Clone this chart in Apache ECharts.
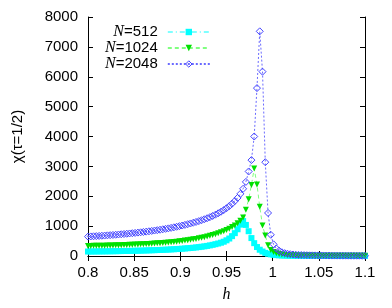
<!DOCTYPE html>
<html><head><meta charset="utf-8">
<script src="https://cdn.jsdelivr.net/npm/echarts@6/dist/echarts.min.js"></script>
<style>html,body{margin:0;padding:0;background:#fff}#c{width:392px;height:308px}</style>
</head><body><div id="c"></div>
<script>
const hValues = [0.800,0.803,0.806,0.809,0.812,0.815,0.818,0.821,0.824,0.827,
0.830,0.833,0.836,0.839,0.842,0.845,0.848,0.851,0.854,0.857,
0.860,0.863,0.866,0.869,0.872,0.875,0.878,0.881,0.884,0.887,
0.890,0.893,0.896,0.899,0.902,0.905,0.908,0.911,0.914,0.917,
0.920,0.923,0.926,0.929,0.932,0.935,0.938,0.941,0.944,0.947,
0.950,0.953,0.956,0.959,0.962,0.965,0.968,0.971,0.974,0.977,
0.980,0.983,0.986,0.989,0.992,0.995,0.998,1.001,1.004,1.007,
1.010,1.013,1.016,1.019,1.022,1.025,1.028,1.031,1.034,1.037,
1.040,1.043,1.046,1.049,1.052,1.055,1.058,1.061,1.064,1.067,
1.070,1.073,1.076,1.079,1.082,1.085,1.088,1.091,1.094,1.097,1.100];

const chiN512 = [150,151,152,153,154,155,156,157,158,160,
161,163,165,167,169,171,173,175,177,180,
183,186,189,192,195,199,203,207,211,216,
221,226,232,238,245,252,260,268,277,287,
298,310,323,338,355,374,395,418,445,478,
525,585,665,765,895,1050,1170,1040,830,600,
430,300,210,150,105,75,55,40,30,23,
18,15,12,10,9,8,7,6,6,5,
5,5,4,4,4,4,3,3,3,3,
3,3,3,2,2,2,2,2,2,2,2];

const chiN1024 = [335,337,339,341,343,345,347,349,352,355,
358,361,364,367,370,374,378,382,386,390,
395,400,405,411,417,423,430,437,445,453,
462,471,481,492,503,515,528,542,557,573,
590,608,628,650,674,700,728,758,791,828,
870,916,967,1025,1095,1180,1290,1550,1900,2380,
2930,2390,1650,1020,690,360,200,130,90,65,
50,40,33,28,24,21,19,17,16,15,
14,13,12,11,11,10,10,9,9,8,
8,8,7,7,7,6,6,6,6,5,5];

const chiN2048 = [650,655,660,666,672,678,684,691,698,705,
712,720,728,736,745,754,763,773,783,793,
804,815,827,839,852,865,879,894,909,925,
942,960,979,999,1020,1042,1065,1089,1114,1140,
1168,1198,1230,1264,1300,1340,1383,1430,1481,1537,
1600,1670,1750,1840,1945,2080,2250,2480,2830,3210,
4000,5620,7520,6170,3140,1440,710,390,250,175,
125,95,75,60,50,43,37,33,29,26,
23,21,20,19,18,17,16,15,14,14,
13,13,12,12,11,11,10,10,10,9,9];

const seriesNames = ['N=512','N=1024','N=2048'];
const xTicks = {min: 0.8, max: 1.1, interval: 0.05};
const yTicks = {min: 0, max: 8000, interval: 1000};

const pairs = vals => hValues.map((h, i) => [h, vals[i]]);
const sans = 'Liberation Sans';
const tickStyle = {inside: true, length: 5, lineStyle: {color: '#000', width: 1}};
const lineAx = {lineStyle: {color: '#000', width: 1}};
const blueStyle = {color: 'rgba(0,0,0,0)', borderColor: '#4444ff', borderWidth: 1};

const chart = echarts.init(document.getElementById('c'), null, {renderer: 'canvas'});
chart.setOption({
  animation: false,
  backgroundColor: '#fff',
  grid: {left: 88, right: 27, top: 17, bottom: 47},
  legend: {
    orient: 'vertical', align: 'right', left: 100, top: 19,
    itemWidth: 42, itemHeight: 8, itemGap: 0, selectedMode: false,
    data: [{name: seriesNames[0]}, {name: seriesNames[1]},
           {name: seriesNames[2], itemStyle: blueStyle}],
    formatter: name => '{i|N}{t|' + name.slice(1) + '}',
    textStyle: {
      rich: {
        i: {fontFamily: 'Liberation Serif', fontStyle: 'italic', fontSize: 16, color: '#000', lineHeight: 15},
        t: {fontFamily: sans, fontSize: 15, color: '#000', lineHeight: 15, padding: [0, 5, 0, 0]}
      }
    }
  },
  xAxis: [{
    type: 'value', min: xTicks.min, max: xTicks.max, interval: xTicks.interval,
    name: 'h', nameLocation: 'middle', nameGap: 31,
    nameTextStyle: {fontFamily: 'Liberation Serif', fontStyle: 'italic', fontSize: 16, color: '#000'},
    axisLine: lineAx, axisTick: tickStyle, splitLine: {show: false},
    axisLabel: {fontFamily: sans, fontSize: 15, color: '#000', margin: 9}
  }, {
    type: 'value', position: 'top', min: xTicks.min, max: xTicks.max, interval: xTicks.interval,
    axisLine: lineAx, axisTick: tickStyle, splitLine: {show: false}, axisLabel: {show: false}
  }],
  yAxis: [{
    type: 'value', min: yTicks.min, max: yTicks.max, interval: yTicks.interval,
    name: 'χ(τ=1/2)', nameLocation: 'middle', nameGap: 63,
    nameTextStyle: {fontFamily: sans, fontSize: 15, color: '#000'},
    axisLine: lineAx, axisTick: tickStyle, splitLine: {show: false},
    axisLabel: {fontFamily: sans, fontSize: 15, color: '#000', margin: 10, formatter: v => String(v)}
  }, {
    type: 'value', position: 'right', min: yTicks.min, max: yTicks.max, interval: yTicks.interval,
    axisLine: lineAx, axisTick: tickStyle, splitLine: {show: false}, axisLabel: {show: false}
  }],
  series: [{
    name: seriesNames[0], type: 'line', data: pairs(chiN512),
    showAllSymbol: true, symbol: 'rect', symbolSize: 6,
    itemStyle: {color: '#00ffff'},
    lineStyle: {color: '#7fffff', width: 1, type: [5, 3, 1, 3]}
  }, {
    name: seriesNames[1], type: 'line', data: pairs(chiN1024),
    showAllSymbol: true, symbol: 'triangle', symbolRotate: 180, symbolSize: 6,
    itemStyle: {color: '#00e000'},
    lineStyle: {color: '#80ff80', width: 1, type: [4, 3]}
  }, {
    name: seriesNames[2], type: 'line', data: pairs(chiN2048),
    showAllSymbol: true, symbol: 'diamond', symbolSize: 7,
    itemStyle: blueStyle,
    lineStyle: {color: '#6a6aff', width: 1, type: [2, 2]}
  }]
});
</script></body></html>
